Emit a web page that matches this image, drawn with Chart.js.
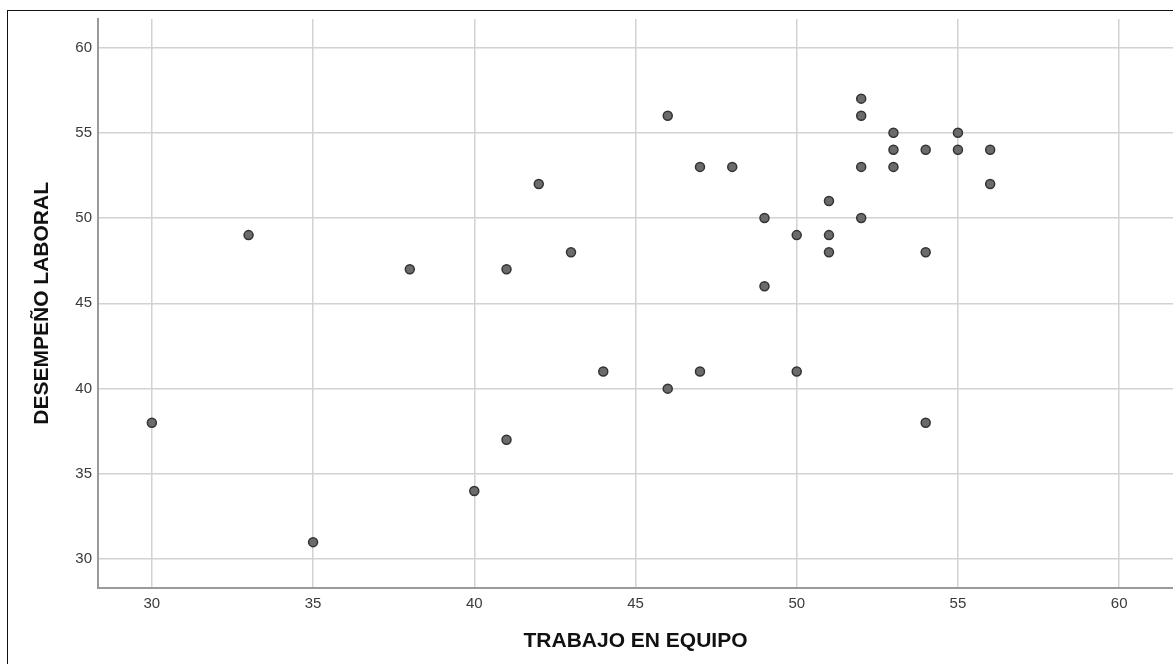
<!DOCTYPE html>
<html>
<head>
<meta charset="utf-8">
<script src="https://cdn.jsdelivr.net/npm/chart.js@4.4.0/dist/chart.umd.min.js"></script>
<style>
  html, body { margin: 0; padding: 0; background: #fff; overflow: hidden; }
  #wrap { position: relative; width: 1173px; height: 664px; }
  #frame { position: absolute; left: 7px; top: 10px; width: 2000px; height: 2000px; border: 1.5px solid #111; }
  #myChart { position: absolute; left: 0; top: 0; }
</style>
</head>
<body>
<div id="wrap">
  <div id="frame"></div>
  <canvas id="myChart" width="1173" height="664"></canvas>
</div>
<script>
// TRABAJO EN EQUIPO (x) / DESEMPEÑO LABORAL (y), one entry per case
var trabajo   = [30, 33, 35, 38, 40, 41, 41, 42, 43, 44, 46, 46, 47, 47, 48, 49, 49, 50, 50, 51, 51, 51, 52, 52, 52, 52, 53, 53, 53, 54, 54, 54, 55, 55, 56, 56];
var desempeno = [38, 49, 31, 47, 34, 47, 37, 52, 48, 41, 56, 40, 53, 41, 53, 50, 46, 49, 41, 51, 49, 48, 57, 56, 53, 50, 55, 54, 53, 54, 48, 38, 55, 54, 54, 52];
var xTitle = "TRABAJO EN EQUIPO";
var yTitle = "DESEMPEÑO LABORAL";
var axisMin = 28.33, axisMax = 61.67;

var points = [];
for (var i = 0; i < trabajo.length; i++) {
	points.push({x: trabajo[i], y: desempeno[i]});
}

var fam = "'Liberation Sans', Arial, sans-serif";
var ctx = document.getElementById('myChart').getContext('2d');

var myChart = new Chart(ctx, {
	type: 'scatter',
	data: {
		datasets: [{
			data: points,
			backgroundColor: "#6b6b6b",
			borderColor: "#333333",
			borderWidth: 1.5,
			pointRadius: 4.5
		}]
	},
	options: {
		responsive: false,
		animation: false,
		devicePixelRatio: 1,
		// no auto padding: plot runs right up to the window edge, like the cropped original
		layout: { autoPadding: false, padding: { left: 0, right: 0, top: 19, bottom: 0 } },
		plugins: { legend: { display: false }, tooltip: { enabled: false } },
		scales: {
			x: {
				type: 'linear',
				min: axisMin, max: axisMax,
				afterFit: function(s) { s.height = 76.3; s.paddingLeft = 0; s.paddingRight = 0; },
				border: { color: "#9a9a9a", width: 2 },
				grid: { color: "#d2d2d2", lineWidth: 1.5, drawTicks: false },
				ticks: { stepSize: 5, includeBounds: false, padding: 7, color: "#3a3a3a", font: { family: fam, size: 15 } },
				title: { display: true, text: xTitle, color: "#111", padding: { top: 0, bottom: 10 }, font: { family: fam, size: 21, weight: 'bold' } }
			},
			y: {
				type: 'linear',
				min: axisMin, max: axisMax,
				afterFit: function(s) { s.width = 98; s.paddingTop = 0; s.paddingBottom = 0; },
				border: { color: "#9a9a9a", width: 2 },
				grid: { color: "#d2d2d2", lineWidth: 1.5, drawTicks: false },
				ticks: { stepSize: 5, includeBounds: false, padding: 6, color: "#3a3a3a", font: { family: fam, size: 15 } },
				title: { display: true, text: yTitle, color: "#111", padding: { top: 30, bottom: 0 }, font: { family: fam, size: 21, weight: 'bold' } }
			}
		}
	}
});
</script>
</body>
</html>
